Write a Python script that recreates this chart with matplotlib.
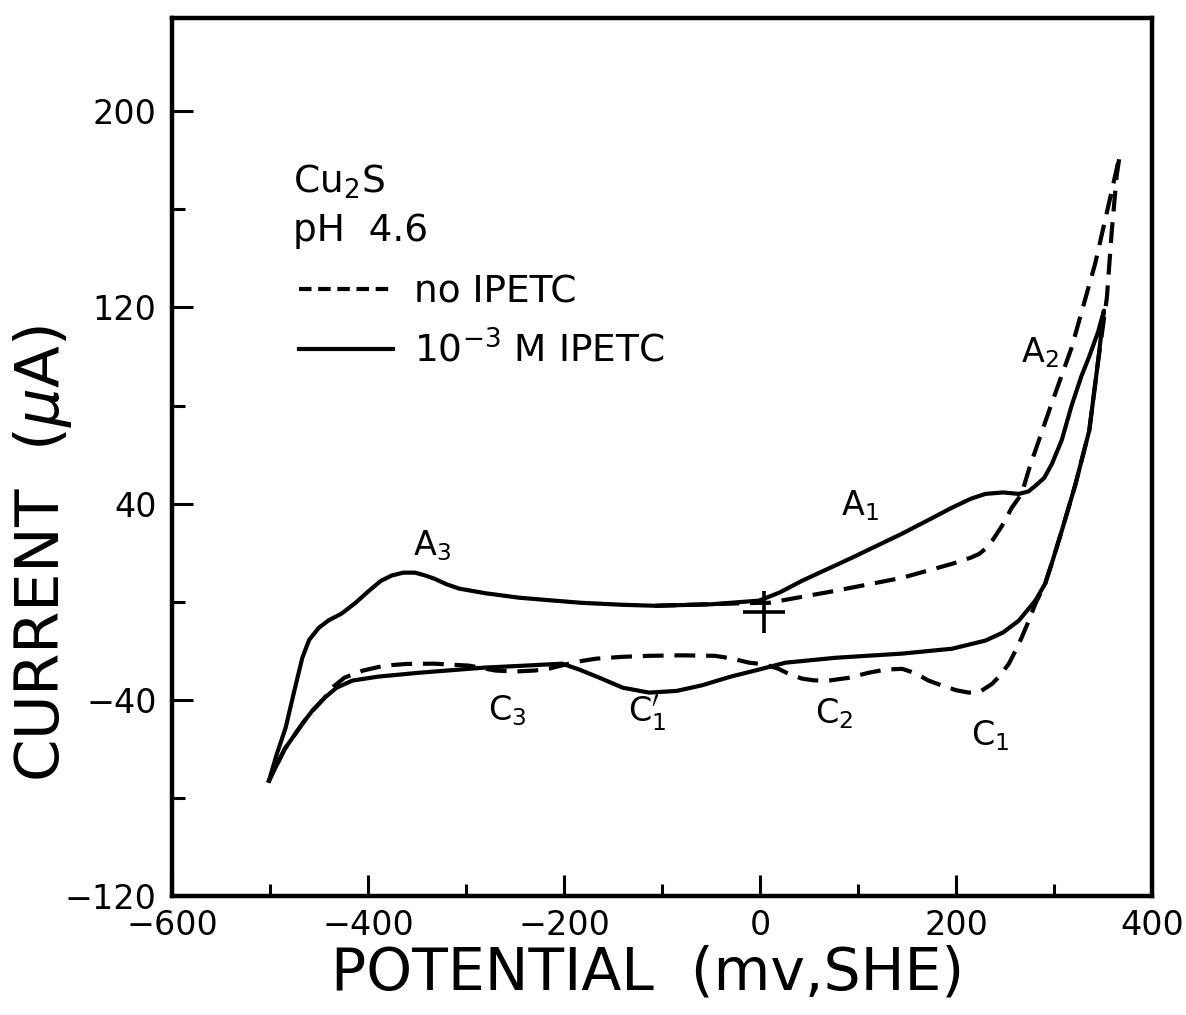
import matplotlib
matplotlib.use('Agg')
import matplotlib.pyplot as plt
from matplotlib.lines import Line2D

plt.rcParams['font.family'] = ['DejaVu Sans']
plt.rcParams['mathtext.fontset'] = 'dejavusans'

# 10^-3 M IPETC (solid): anodic sweep from -500 mV, then cathodic return
pot_solid = [-501, -493, -484, -475, -467, -460, -450, -440, -427, -413, -399, -387, -376, -364, -352,
             -342, -332, -320, -307, -280, -246, -210, -182, -140, -107, -50, -1, 20, 43, 94, 145,
             175, 196, 215, 230, 248, 264, 274, 281, 290, 298, 308, 318, 328, 336, 345, 351,
             345, 336, 322, 308, 298, 291, 281, 264, 248, 230, 196, 145, 77, 26, 0, -30, -59,
             -85, -113, -140, -164, -185, -202, -240, -281, -348, -390, -416, -432, -444, -457,
             -467, -485, -501]
cur_solid = [-72.9, -62.0, -51.3, -36.0, -22.8, -15.5, -10.5, -7.5, -4.8, -0.5, 4.5, 8.5, 10.7, 11.9, 11.9,
             10.8, 9.4, 7.2, 5.4, 3.5, 1.7, 0.5, -0.4, -1.2, -1.6, -1.0, 0.5, 3.8, 8.6, 18.0, 27.8,
             34.0, 38.4, 42.0, 44.0, 44.6, 44.0, 45.0, 47.3, 50.5, 56.3, 66.0, 80.0, 92.0, 100.0, 110.0, 118.7,
             98.0, 69.8, 48.0, 29.0, 16.0, 7.4, 0.5, -7.7, -12.5, -15.8, -19.1, -21.1, -22.8, -24.8, -27.5, -30.5, -34.0,
             -36.3, -37.0, -35.0, -30.9, -27.5, -25.2, -26.0, -26.8, -28.9, -30.5, -32.1, -35.0, -39.0, -44.5,
             -49.7, -60.0, -72.9]

# no IPETC (dashed)
pot_dash = [-107, -1, 9, 77, 145, 196, 215, 224, 231, 237, 247, 257, 267, 275, 296, 318, 342, 356, 367,
            364, 359, 354, 345, 336, 322, 308, 298, 291, 281, 274, 267, 260, 254, 245, 237, 225, 213,
            200, 185, 172, 158, 145, 128, 111, 90, 70, 55, 43, 30, 19, 5, -11, -30, -46, -80, -113,
            -140, -168, -185, -199, -215, -230, -250, -270, -297, -332, -360, -383, -405, -424, -435,
            -444, -457, -467, -485, -501]
cur_dash = [-1.6, -0.4, -0.4, 4.5, 9.8, 15.5, 18.0, 19.6, 22.0, 24.9, 31.0, 38.4, 44.0, 54.7, 79.0, 103.6, 137.8, 162.3, 181.8,
            173.7, 151.3, 124.0, 98.0, 69.8, 48.0, 29.0, 16.0, 7.4, -0.8, -8.0, -14.6, -20.5, -25.2, -30.0, -33.4, -36.5, -37.0,
            -36.0, -34.0, -32.1, -29.0, -27.3, -27.6, -28.9, -31.0, -32.1, -32.0, -31.3, -29.5, -27.3, -25.5, -24.8, -23.0, -22.0, -21.8, -22.0,
            -22.4, -23.2, -24.3, -25.6, -27.2, -28.0, -28.4, -28.0, -26.0, -25.2, -25.3, -26.0, -28.0, -30.9, -34.5,
            -39.0, -44.5, -49.7, -60.0, -72.9]

# peak labels
peak_names = ['A$_3$', 'A$_1$', 'A$_2$', 'C$_3$', "C$_1'$", 'C$_2$', 'C$_1$']
peak_x = [-335, 102, 286, -258, -115, 76, 235]
peak_y = [22.9, 39.2, 101.5, -44.4, -45.6, -45.6, -54.6]

# rest potential
rest_x = [4]
rest_y = [-4]

fig = plt.figure(figsize=(11.86, 10.15), dpi=100)
ax = fig.add_axes([0.145, 0.117, 0.8263, 0.8653])

ax.plot(pot_solid, cur_solid, color='black', linewidth=3, solid_joinstyle='round')
ax.plot(pot_dash, cur_dash, color='black', linewidth=3, linestyle=(0, (5, 2.6)))
ax.plot(rest_x, rest_y, marker='+', markersize=30, markeredgewidth=2.6, color='black', linestyle='none')

for name, px, py in zip(peak_names, peak_x, peak_y):
    ax.text(px, py, name, fontsize=24, ha='center', va='center')

ax.set_xlim(-600, 400)
ax.set_ylim(-120, 238)

ax.set_xticks([-600, -400, -200, 0, 200, 400])
ax.set_xticklabels(['\u2212600', '\u2212400', '\u2212200', '0', '200', '400'])
ax.set_xticks([-500, -300, -100, 100, 300], minor=True)
ax.set_yticks([-120, -40, 40, 120, 200])
ax.set_yticklabels(['\u2212120', '\u221240', '40', '120', '200'])
ax.set_yticks([-80, 0, 80, 160], minor=True)

ax.tick_params(which='both', direction='in', width=2.2, labelsize=24, top=False, right=False)
ax.tick_params(which='major', length=15)
ax.tick_params(which='minor', length=9)
ax.tick_params(axis='x', which='major', pad=9)
ax.tick_params(axis='y', which='major', pad=11)
for s in ax.spines.values():
    s.set_linewidth(3.2)

ax.set_xlabel('POTENTIAL  (mv,SHE)', fontsize=42)
ax.set_ylabel('CURRENT  ($\\mu$A)', fontsize=44)
ax.xaxis.set_label_coords(0.485, -0.055)
ax.yaxis.set_label_coords(-0.1, 0.39)

ax.text(-477, 171, 'Cu$_2$S', fontsize=27, ha='left', va='center')
ax.text(-477, 151, 'pH  4.6', fontsize=27, ha='left', va='center')

handles = [Line2D([], [], color='black', linewidth=3, linestyle=(0, (3, 1.6))),
           Line2D([], [], color='black', linewidth=3)]
ax.legend(handles, ['no IPETC', '10$^{-3}$ M IPETC'], loc='upper left',
          bbox_to_anchor=(0.13, 0.708), frameon=False, fontsize=27,
          handlelength=2.5, handletextpad=0.55, labelspacing=0.55,
          borderpad=0, borderaxespad=0)

fig.savefig('out.png', dpi=100)
